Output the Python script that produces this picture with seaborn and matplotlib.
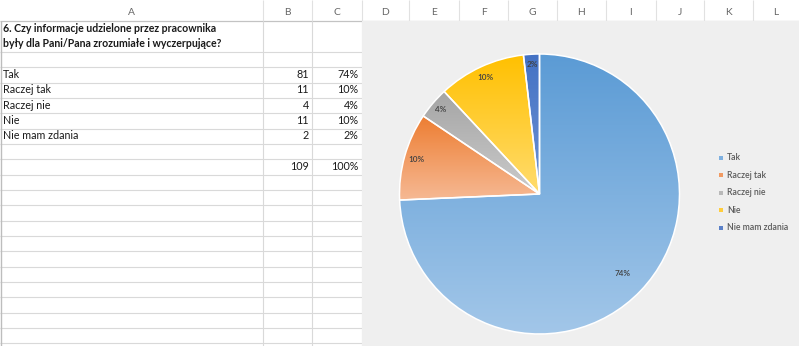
import numpy as np
import matplotlib
matplotlib.use("Agg")
import matplotlib.pyplot as plt
import matplotlib.colors as mcolors
from matplotlib.patches import Rectangle
import seaborn as sns

# ---------------- data ----------------
title_lines = ["6. Czy informacje udzielone przez pracownika",
               "były dla Pani/Pana zrozumiałe i wyczerpujące?"]
categories = ["Tak", "Raczej tak", "Raczej nie", "Nie", "Nie mam zdania"]
counts = [81, 11, 4, 11, 2]
column_letters = ["A", "B", "C", "D", "E", "F", "G", "H", "I", "J", "K", "L"]

total = sum(counts)
percents = [round(100 * c / total) for c in counts]

# ---------------- style ----------------
sns.set_style("white")
plt.rcParams["font.family"] = ["Lato", "DejaVu Sans"]

W, H = 799, 346
fig = plt.figure(figsize=(W / 100, H / 100), dpi=100)
fig.patch.set_facecolor("white")
ax = fig.add_axes([0, 0, 1, 1])
ax.set_xlim(0, W)
ax.set_ylim(H, 0)
ax.axis("off")

renderer = fig.canvas.get_renderer()


def fit(text, target_px, **kw):
    t = ax.text(0, 0, text, fontsize=10, **kw)
    bb = t.get_window_extent(renderer)
    t.remove()
    return 10 * target_px / bb.width


fs_reg = fit("Nie mam zdania", 75)
fs_bold = fit(title_lines[0], 214, fontweight="bold")
fs_leg = fit("Nie mam zdania", 61, fontweight="semibold")
fs_lab = fit("74%", 16, fontweight="semibold")

# column boundaries (pixels)
col_edges = [0, 262.7, 311.7, 361.5, 409, 459, 508, 557, 606, 656, 704, 753, 799]

# header
ax.hlines(20.5, 0, W, color="#c3c3c3", lw=0.9)
for x in col_edges[1:-1]:
    ax.vlines(x, 0, 20.5, color="#e1e1e1", lw=0.8)
for i, letter in enumerate(column_letters):
    cx = (col_edges[i] + col_edges[i + 1]) / 2
    ax.text(cx, 12.5, letter, ha="center", va="center", fontsize=fs_reg * 0.95,
            color="#666666")

# grid in A-C
row_lines = [20.7] + [52 + 15.33 * k for k in range(20)]
for y in row_lines[1:]:
    ax.hlines(y, 0, 361.5, color="#d9d9d9", lw=0.8)
for x in col_edges[1:4]:
    ax.vlines(x, 20.5, H, color="#d9d9d9", lw=0.8)
ax.vlines(0.6, 20.5, H, color="#bdbdbd", lw=1.0)

# title
ax.text(3, 32, title_lines[0], fontsize=fs_bold, fontweight="bold", color="#1a1a1a")
ax.text(3, 47, title_lines[1], fontsize=fs_bold, fontweight="bold", color="#1a1a1a")

# table rows
for i, (cat, c, p) in enumerate(zip(categories, counts, percents)):
    yb = 52 + 15.33 * (i + 2) - 4.5
    ax.text(3, yb, cat, fontsize=fs_reg, color="#1a1a1a")
    ax.text(309, yb, str(c), fontsize=fs_reg, color="#1a1a1a", ha="right")
    ax.text(358.5, yb, f"{p}%", fontsize=fs_reg, color="#1a1a1a", ha="right")
yb = 52 + 15.33 * 8 - 4.5
ax.text(309, yb, str(total), fontsize=fs_reg, color="#1a1a1a", ha="right")
ax.text(358.5, yb, "100%", fontsize=fs_reg, color="#1a1a1a", ha="right")

# chart area background
ax.add_patch(Rectangle((362, 21), W - 362, H - 21, facecolor="#efefef",
                       edgecolor="none", zorder=3))

# ---------------- pie ----------------
top_colors = ["#5b9bd5", "#ed7d31", "#a5a5a5", "#ffc000", "#4472c4"]
bot_colors = ["#a3c7e9", "#f6b994", "#cbcbcb", "#ffdc6e", "#6d92d4"]
legend_colors = ["#7eb0e0", "#f19a62", "#b9b9b9", "#ffcd3c", "#5a80c8"]

cx, cy, R = 539.5, 194, 140
ax_pie = fig.add_axes([(cx - R) / W, (H - cy - R) / H, 2 * R / W, 2 * R / H])
ax_pie.set_zorder(5)
wedges, _ = ax_pie.pie(counts, startangle=90, counterclock=False,
                       colors=top_colors,
                       wedgeprops=dict(edgecolor="white", linewidth=1.1))
ax_pie.set_xlim(-1, 1)
ax_pie.set_ylim(-1, 1)
ax_pie.axis("off")

for w, ct, cb in zip(wedges, top_colors, bot_colors):
    verts = w.get_path().vertices
    ymin, ymax = verts[:, 1].min(), verts[:, 1].max()
    cmap = mcolors.LinearSegmentedColormap.from_list("g", [ct, cb])
    grad = np.linspace(0, 1, 256).reshape(-1, 1)
    im = ax_pie.imshow(grad, cmap=cmap, extent=(-1, 1, ymin, ymax),
                       origin="upper", aspect="auto", zorder=1,
                       interpolation="bilinear")
    im.set_clip_path(w)
    w.set_facecolor("none")
    w.set_zorder(2)
ax_pie.set_xlim(-1, 1)
ax_pie.set_ylim(-1, 1)

label_dist = [0.82, 0.91, 0.93, 0.92, 0.93]
for w, p, d in zip(wedges, percents, label_dist):
    th = np.deg2rad((w.theta1 + w.theta2) / 2)
    ax_pie.text(d * np.cos(th), d * np.sin(th), f"{p}%", ha="center",
                va="center", fontsize=fs_lab, fontweight="semibold",
                color="#404040", zorder=4)

# legend
for i, (cat, col) in enumerate(zip(categories, legend_colors)):
    y = 157.5 + 17.6 * i
    ax.scatter([721], [y], marker="s", s=9, color=col, zorder=6, linewidths=0)
    ax.text(727, y, cat, fontsize=fs_leg, fontweight="semibold",
            color="#595959", va="center", zorder=6)

fig.savefig("out.png", dpi=100)
